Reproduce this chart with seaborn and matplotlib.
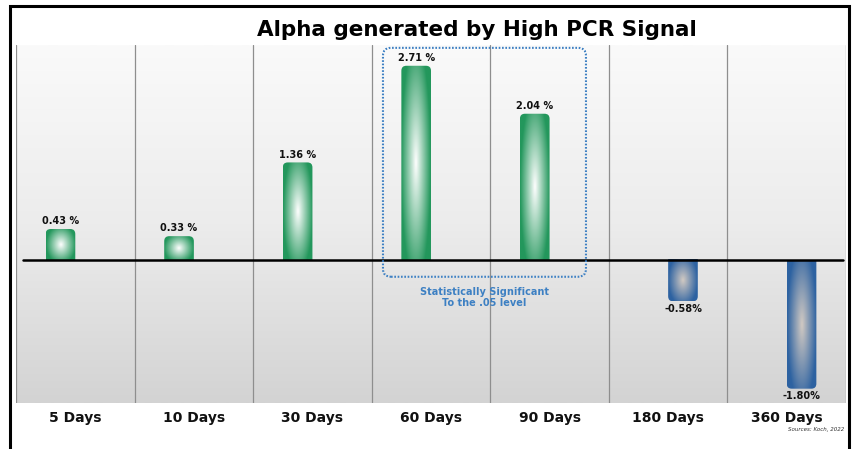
import numpy as np
import pandas as pd
import matplotlib
matplotlib.use("Agg")
import matplotlib.pyplot as plt
import seaborn as sns
from matplotlib.patches import FancyBboxPatch
from matplotlib.colors import to_rgb, LinearSegmentedColormap
from matplotlib.lines import Line2D

# ---- data -------------------------------------------------------------
horizons = ["5 Days", "10 Days", "30 Days", "60 Days", "90 Days", "180 Days", "360 Days"]
alpha_pct = [0.43, 0.33, 1.36, 2.71, 2.04, -0.58, -1.80]

title_text = "Alpha generated by High PCR Signal"
note_text = "Statistically Significant\nTo the .05 level"
source_text = "Sources: Koch, 2022"

# ---- styling ----------------------------------------------------------
GREEN_EDGE = "#23975c"
GREEN_CORE = "#ffffff"
BLUE_EDGE = "#2d62a1"
BLUE_CORE = "#d2cac3"
NOTE_BLUE = "#3d80c3"

df = pd.DataFrame({"horizon": horizons, "alpha": alpha_pct})
df["sign"] = np.where(df["alpha"] >= 0, "pos", "neg")

sns.set_theme(style="white")
plt.rcParams["font.family"] = ["DejaVu Sans"]

W, H = 856, 449
fig = plt.figure(figsize=(W / 100, H / 100), dpi=100)
fig.patch.set_facecolor("white")
ax_px = (16, 46, 830, 358)  # left, bottom, width, height in pixels
ax = fig.add_axes([ax_px[0] / W, ax_px[1] / H, ax_px[2] / W, ax_px[3] / H])

sns.barplot(data=df, x="horizon", y="alpha", hue="sign", hue_order=["pos", "neg"],
            dodge=True, width=0.5, palette={"pos": GREEN_EDGE, "neg": BLUE_EDGE},
            errorbar=None, legend=False, ax=ax, zorder=3)

XLIM = (-0.5, len(horizons) - 0.5)
YLIM = (-2.0, 3.0)

# data units per pixel, used to keep corner rounding circular on screen
xu = (XLIM[1] - XLIM[0]) / ax_px[2]
yu = (YLIM[1] - YLIM[0]) / ax_px[3]
aspect = yu / xu

# panel background: light vertical gradient
bg_cmap = LinearSegmentedColormap.from_list("bg", ["#fafafa", "#ececec", "#d3d3d3"])
ax.imshow(np.linspace(0, 1, 256).reshape(-1, 1), cmap=bg_cmap, aspect="auto",
          extent=[XLIM[0], XLIM[1], YLIM[0], YLIM[1]], zorder=0, interpolation="bilinear")

# column separators
for xb in np.arange(XLIM[0], XLIM[1] + 0.01, 1.0):
    ax.axvline(xb, color="#8e8e8e", lw=0.9, zorder=1)


def glossy_fill(bar, edge, core):
    bb = bar.get_bbox()
    x0, x1 = min(bb.x0, bb.x1), max(bb.x0, bb.x1)
    y0, y1 = min(bb.y0, bb.y1), max(bb.y0, bb.y1)
    nx, ny = 80, 240
    X, Y = np.meshgrid(np.linspace(-1, 1, nx), np.linspace(-1, 1, ny))
    r = np.clip(np.sqrt(X ** 2 + (0.8 * Y) ** 2), 0, 1)
    t = ((1 - r) ** 1.0)[..., None]
    img = np.array(to_rgb(edge)) * (1 - t) + np.array(to_rgb(core)) * t
    im = ax.imshow(img, extent=[x0, x1, y0, y1], aspect="auto", zorder=3,
                   interpolation="bilinear")
    # round the free end; extend the clip box past the baseline so that end stays square
    rad = 5 * xu
    ext = 8 * yu
    positive = bar.get_height() >= 0
    cy0 = y0 - ext if positive else y0
    cy1 = y1 if positive else y1 + ext
    clip = FancyBboxPatch((x0, cy0), x1 - x0, cy1 - cy0,
                          boxstyle=f"round,pad=0,rounding_size={rad}",
                          mutation_aspect=aspect, transform=ax.transData)
    im.set_clip_path(clip)
    bar.set_facecolor("none")
    bar.set_edgecolor("none")


for bar in list(ax.patches):
    if bar.get_height() >= 0:
        glossy_fill(bar, GREEN_EDGE, GREEN_CORE)
    else:
        glossy_fill(bar, BLUE_EDGE, BLUE_CORE)

# value labels
for cont in ax.containers:
    vals = np.asarray(cont.datavalues)
    fmt = "{:.2f} %" if np.all(vals >= 0) else "{:.2f}%"
    ax.bar_label(cont, fmt=fmt, padding=2, fontsize=7, fontweight="bold",
                 color="#111111", zorder=6)

# zero line
ax.axhline(0, xmin=0.008, xmax=0.996, color="black", lw=1.8, zorder=5)

# significance box around the 60 and 90 day bars
box_x0, box_x1 = 2.595, 4.307
box_y0, box_y1 = -0.237, 2.96
sig_box = FancyBboxPatch((box_x0, box_y0), box_x1 - box_x0, box_y1 - box_y0,
                         boxstyle=f"round,pad=0,rounding_size={8 * xu}",
                         mutation_aspect=aspect, facecolor="none", edgecolor=NOTE_BLUE,
                         lw=1.5, linestyle=(0, (0.8, 0.8)), zorder=6)
ax.add_patch(sig_box)
ax.text((box_x0 + box_x1) / 2, -0.53, note_text, ha="center", va="center",
        color=NOTE_BLUE, fontsize=7, fontweight="bold", linespacing=1.1, zorder=6)

ax.set_xlim(*XLIM)
ax.set_ylim(*YLIM)
ax.set_xlabel("")
ax.set_ylabel("")
ax.set_yticks([])
for s in ax.spines.values():
    s.set_visible(False)
ax.tick_params(axis="x", length=0, pad=6, labelsize=10, labelcolor="#111111")
for lbl in ax.get_xticklabels():
    lbl.set_fontweight("bold")

# title and source line
fig.text(476.5 / W, 1 - 35.5 / H, title_text, ha="center", va="baseline",
         fontsize=15.5, fontweight="bold", color="black")
fig.text(844 / W, 1 - 430 / H, source_text, ha="right", va="center",
         fontsize=4, style="italic", color="#333333")

# outer frame (open at the bottom)
fx0, fx1, fy = 10 / W, 849 / W, 1 - 6 / H
fig.add_artist(Line2D([fx0, fx0, fx1, fx1], [0, fy, fy, 0], transform=fig.transFigure,
                      color="black", lw=2.2, solid_joinstyle="miter"))

fig.savefig("out.png", dpi=100)
